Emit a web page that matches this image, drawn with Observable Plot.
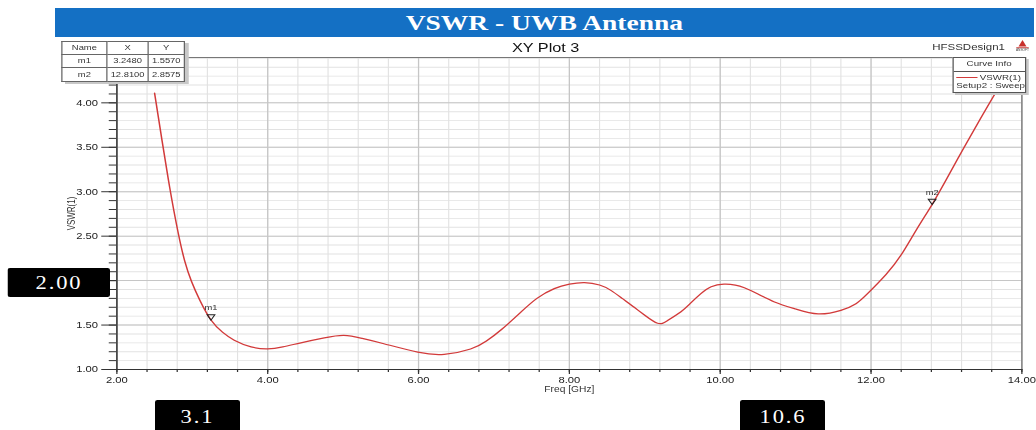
<!DOCTYPE html>
<html>
<head>
<meta charset="utf-8">
<script src="https://cdn.jsdelivr.net/npm/d3@7"></script>
<script src="https://cdn.jsdelivr.net/npm/@observablehq/plot@0.6"></script>
<style>
  html, body { margin: 0; padding: 0; background: #fff; overflow: hidden; }
  #stage {
    position: relative; width: 829px; height: 430px;
    transform: scaleX(1.25); transform-origin: 0 0;
    font-family: "Liberation Sans", Arial, sans-serif; color: #222;
  }
  #stage > * { position: absolute; }
  .titlebar {
    left: 44px; top: 8px; width: 783px; height: 29px; background: #1470c4;
    color: #fff; font: bold 22px "Liberation Serif", "Times New Roman", serif;
    text-align: center; line-height: 30px;
  }
  .plottitle { left: 44px; width: 785px; top: 40px; text-align: center; font-size: 13px; line-height: 15px; color: #111; }
  .design { left: 740px; width: 64px; top: 41px; text-align: right; font-size: 9.2px; line-height: 12px; color: #333; }
  .logo { left: 809px; top: 38px; }
  table.markers {
    left: 48.6px; top: 40.7px; border-collapse: collapse; background: #fff;
    font-size: 7.5px; color: #333; box-shadow: 3px 2px 0 #c8c8c8;
  }
  table.markers td { border: 1px solid #666; text-align: center; padding: 0; height: 12.4px; line-height: 12px; }
  .legend {
    left: 761.8px; top: 57.3px; width: 57px; height: 33.6px; background: #fff;
    border: 1px solid #555; box-shadow: 2px 2px 0 #c8c8c8; font-size: 7.8px; color: #333;
  }
  .legend .head { height: 12.4px; line-height: 12.6px; text-align: center; border-bottom: 1px solid #555; }
  .legend .row1 { position: relative; height: 10px; line-height: 10px; }
  .legend .row1 .swatch { position: absolute; left: 2.4px; top: 5.2px; width: 16.5px; height: 1.4px; background: #d23a3a; }
  .legend .row1 .name { position: absolute; right: 3px; top: 1.2px; }
  .legend .row2 { height: 9px; line-height: 8px; padding-left: 2.2px; white-space: nowrap; }
  .band {
    background: #000; color: #fff; border-radius: 2px; text-align: center;
    font: 18px "Liberation Serif", "Times New Roman", serif; letter-spacing: 1.5px;
  }
</style>
</head>
<body>
<div id="stage"></div>
<script>
// VSWR(1) sweep, frequency in GHz
const freq = [2.50, 2.55, 2.60, 2.70, 2.81, 2.90, 2.99, 3.10, 3.248, 3.40, 3.556, 3.78, 4.00, 4.20, 4.44, 4.75, 5.01,
  5.25, 5.54, 5.99, 6.34, 6.69, 6.90, 7.10, 7.35, 7.57, 7.80, 8.00, 8.20, 8.40, 8.55, 8.70, 8.86, 9.00, 9.17,
  9.30, 9.48, 9.60, 9.74, 9.88, 10.05, 10.20, 10.32, 10.50, 10.72, 11.00, 11.30, 11.60, 11.80, 11.95,
  12.20, 12.40, 12.60, 12.81, 13.00, 13.235, 13.45, 13.65, 13.93];
const vswr = [4.11, 3.84, 3.57, 3.05, 2.55, 2.22, 1.99, 1.78, 1.557, 1.42, 1.33, 1.255, 1.233, 1.255, 1.30, 1.355, 1.383,
  1.35, 1.29, 1.195, 1.17, 1.23, 1.32, 1.45, 1.64, 1.80, 1.91, 1.96, 1.977, 1.95, 1.89, 1.80, 1.70, 1.61, 1.52,
  1.55, 1.65, 1.74, 1.85, 1.93, 1.96, 1.95, 1.92, 1.85, 1.76, 1.68, 1.625, 1.665, 1.74, 1.85,
  2.07, 2.29, 2.57, 2.8575, 3.14, 3.50, 3.82, 4.11, 4.50];

// Markers
const markerName = ["m1", "m2"];
const markerX = [3.2480, 12.8100];
const markerY = [1.5570, 2.8575];

// Axis ticks
const xTicks = [2, 4, 6, 8, 10, 12, 14];
const yTicks = [1.0, 1.5, 2.0, 2.5, 3.0, 3.5, 4.0];
const xMinor = d3.range(0, 31).map(i => 2 + i * 0.4);
const yMinor = d3.range(0, 36).map(i => 1 + i * 0.1);

// Band annotations
const bandYValues = [2.00];
const bandXValues = [3.1, 10.6];

const sweep = freq.map((f, i) => ({f, v: vswr[i]}));
const markers = markerName.map((name, i) => ({name, f: markerX[i], v: markerY[i]}));

const fmt2 = d => d.toFixed(2);
// the 2.00 label sits under the band box, so only its tick is drawn
const yFmt = d => bandYValues.includes(d) ? "" : fmt2(d);

const plot = Plot.plot({
  width: 829,
  height: 430,
  marginLeft: 93,
  marginRight: 12,
  marginTop: 57,
  marginBottom: 61,
  style: {background: "transparent", fontFamily: "'Liberation Sans', Arial, sans-serif", overflow: "visible", color: "#222"},
  x: {domain: [2, 14]},
  y: {domain: [1, 4.51]},
  marks: [
    Plot.ruleX(xMinor, {stroke: "#e2e2e2", strokeWidth: 0.9}),
    Plot.ruleY(yMinor, {stroke: "#e2e2e2", strokeWidth: 0.9}),
    Plot.ruleX(xTicks, {stroke: "#c6c6c6", strokeWidth: 1}),
    Plot.ruleY(yTicks, {stroke: "#c6c6c6", strokeWidth: 1}),
    Plot.frame({stroke: "#777", strokeWidth: 1}),
    Plot.ruleX([2], {stroke: "#333", strokeWidth: 1}),
    Plot.ruleY([1], {stroke: "#333", strokeWidth: 1}),
    Plot.axisX(xMinor, {tickSize: 3, tickFormat: () => "", label: null, stroke: "#333"}),
    Plot.axisX(xTicks, {tickSize: 5, tickPadding: 2, tickFormat: fmt2, fontSize: 9, label: null, stroke: "#333", fill: "#222"}),
    Plot.axisY(yMinor, {tickSize: 6, tickFormat: () => "", label: null, stroke: "#333"}),
    Plot.axisY(yTicks, {tickSize: 12, tickPadding: 3, tickFormat: yFmt, fontSize: 9, label: null, stroke: "#333", fill: "#222"}),
    Plot.line(sweep, {x: "f", y: "v", curve: "natural", stroke: "#d23a3a", strokeWidth: 1.2}),
    Plot.dot(markers, {x: "f", y: "v", symbol: "triangle", rotate: 180, r: 2.3, dy: -3.4, stroke: "#222", strokeWidth: 0.9, fill: "none"}),
    Plot.text(markers, {x: "f", y: "v", text: "name", dy: -12, fontSize: 7.5, fill: "#333"}),
    Plot.text(["Freq [GHz]"], {frameAnchor: "bottom", lineAnchor: "middle", dy: 19.5, fontSize: 8.2, fill: "#333"}),
    Plot.text(["VSWR(1)"], {frameAnchor: "left", textAnchor: "middle", lineAnchor: "middle", dx: -36, rotate: -90, fontSize: 8, fill: "#333"})
  ]
});

const stage = document.getElementById("stage");
stage.appendChild(plot);
plot.style.left = "0px";
plot.style.top = "0px";

function add(html) {
  const t = document.createElement("template");
  t.innerHTML = html.trim();
  const el = t.content.firstChild;
  stage.appendChild(el);
  return el;
}

add(`<div class="titlebar">VSWR - UWB Antenna</div>`);
add(`<div class="plottitle">XY Plot 3</div>`);
add(`<div class="design">HFSSDesign1</div>`);
add(`<svg class="logo" width="18" height="16" viewBox="0 0 18 16">
  <path d="M9 2 L12.2 8.6 L5.8 8.6 Z" fill="#c8302c"/>
  <rect x="4" y="9.3" width="10" height="0.9" fill="#c8302c"/>
  <text x="9" y="13" text-anchor="middle" font-size="2.6" fill="#444" font-family="Liberation Sans, Arial">ANSOFT</text>
</svg>`);

// Marker readout table
const rows = [["Name", "X", "Y"]].concat(markers.map(m => [m.name, m.f.toFixed(4), m.v.toFixed(4)]));
const widths = [35.8, 31.4, 28.4];
add(`<table class="markers">${rows.map(r => `<tr>${r.map((c, i) => `<td style="width:${widths[i]}px">${c}</td>`).join("")}</tr>`).join("")}</table>`);

// Curve info legend
add(`<div class="legend"><div class="head">Curve Info</div>
  <div class="row1"><span class="swatch"></span><span class="name">VSWR(1)</span></div>
  <div class="row2">Setup2 : Sweep</div></div>`);

// Band edge annotations positioned from the scales
const sx = plot.scale("x"), sy = plot.scale("y");
bandYValues.forEach(v => {
  const cy = sy.apply(v) + 2.4;
  const el = add(`<div class="band">${v.toFixed(2)}</div>`);
  Object.assign(el.style, {left: "6.4px", width: "81.6px", top: (cy - 14.5) + "px", height: "29px", lineHeight: "30px"});
});
const bandOffsets = [-1.4, 14.5];
bandXValues.forEach((v, i) => {
  const cx = sx.apply(v) + bandOffsets[i];
  const el = add(`<div class="band">${String(v)}</div>`);
  Object.assign(el.style, {left: (cx - 34) + "px", width: "68px", top: "399.5px", height: "34px", lineHeight: "34px"});
});
</script>
</body>
</html>
